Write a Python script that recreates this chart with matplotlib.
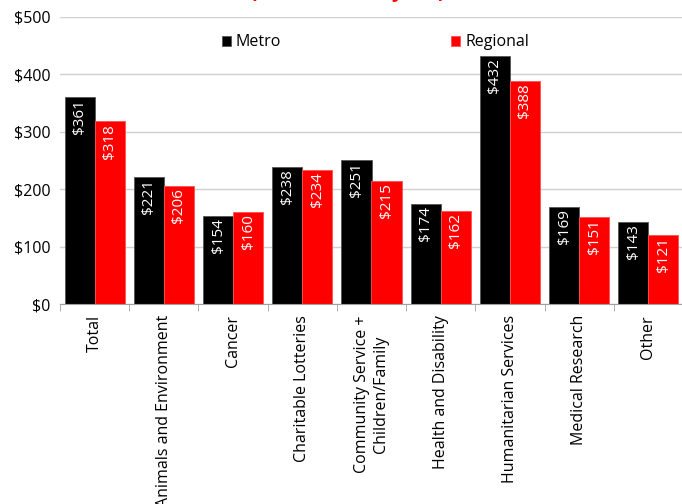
import numpy as np
import matplotlib
matplotlib.use("Agg")
import matplotlib.pyplot as plt

plt.rcParams['font.family'] = ['Open Sans', 'DejaVu Sans']

categories = ['Total', 'Animals and Environment', 'Cancer', 'Charitable Lotteries',
              'Community Service +\nChildren/Family', 'Health and Disability',
              'Humanitarian Services', 'Medical Research', 'Other']
metro = [361, 221, 154, 238, 251, 174, 432, 169, 143]
regional = [318, 206, 160, 234, 215, 162, 388, 151, 121]
y_ticks = [0, 100, 200, 300, 400, 500]

fig = plt.figure(figsize=(6.82, 5.04), dpi=100)
ax = fig.add_axes([60 / 682, 1 - 304 / 504, 623 / 682, 287 / 504])

x = np.arange(len(categories))
w = 0.434
b1 = ax.bar(x - w / 2, metro, w, color='black', edgecolor='#555555', linewidth=0.6, label='Metro', zorder=2)
b2 = ax.bar(x + w / 2, regional, w, color='#ff0000', edgecolor='#ff5050', linewidth=0.6, label='Regional', zorder=2)

# value labels written downward from the top of each bar
for bars, vals in ((b1, metro), (b2, regional)):
    for rect, v in zip(bars, vals):
        ax.text(rect.get_x() + rect.get_width() / 2, v - 4, '$%d' % v,
                rotation=90, ha='center', va='top', color='white', fontsize=11, zorder=3)

ax.set_xlim(-0.5, len(categories) - 0.5)
ax.set_ylim(0, 500)
ax.set_yticks(y_ticks)
ax.set_yticklabels(['$%d' % t for t in y_ticks], fontsize=11.5)
ax.yaxis.grid(True, color='#d0d0d0', linewidth=1, zorder=0)
ax.tick_params(axis='y', length=0, pad=7)

ax.set_xticks(x)
ax.set_xticklabels(categories, rotation=90, fontsize=11.5, ha='center', va='top', multialignment='center')
ax.tick_params(axis='x', length=0, pad=8)
# tick marks between the category groups
ax.set_xticks(np.arange(-0.5, len(categories)), minor=True)
ax.tick_params(axis='x', which='minor', length=5, color='#a0a0a0')

for s in ('top', 'right', 'left'):
    ax.spines[s].set_visible(False)
ax.spines['bottom'].set_color('#a0a0a0')

ax.legend(loc='upper center', bbox_to_anchor=(0.506, 0.99), ncol=2, frameon=False,
          fontsize=11.5, handlelength=0.6, handleheight=0.6, handletextpad=0.3, columnspacing=10.6)

# title sits above the top edge, only its lower part shows
fig.text(348 / 682, 1 + 2.5 / 504, '(Amount this year)', color='#ff0000', fontsize=15,
         fontweight='bold', ha='center', va='baseline')

fig.savefig('out.png', dpi=100)
